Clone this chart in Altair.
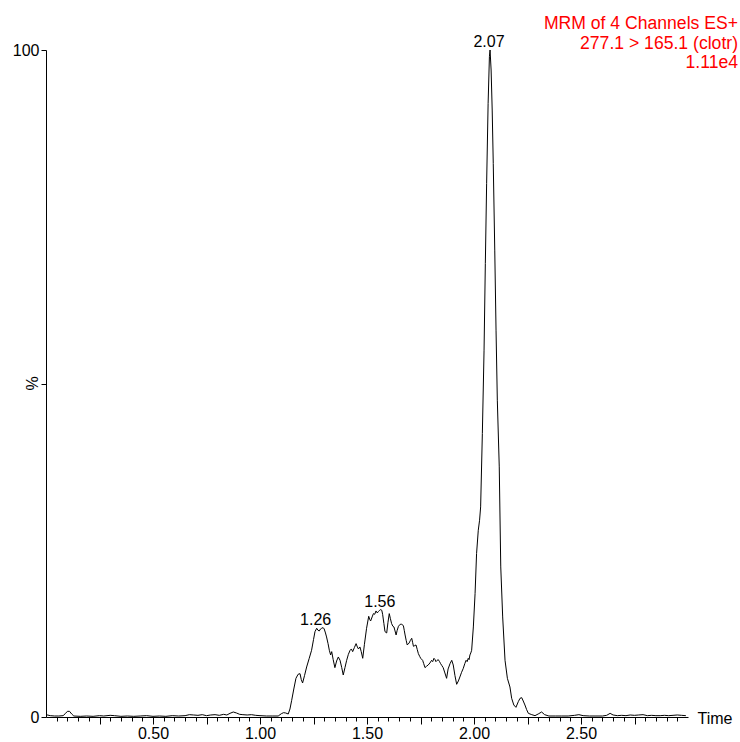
import altair as alt
import pandas as pd

# ---- data ----
times = [
    0.00, 0.02, 0.04, 0.06, 0.08, 0.09, 0.10, 0.11, 0.12, 0.13, 0.16, 0.19, 0.22, 0.25, 0.27,
    0.30, 0.32, 0.35, 0.38, 0.41, 0.44, 0.47, 0.50, 0.53, 0.56, 0.59, 0.62, 0.65, 0.67, 0.69,
    0.71, 0.73, 0.75, 0.77, 0.79, 0.81, 0.83, 0.845, 0.86, 0.875, 0.89, 0.905, 0.92, 0.94, 0.96,
    0.98, 1.00, 1.03, 1.06, 1.085, 1.10, 1.11, 1.12, 1.132, 1.14, 1.148, 1.158, 1.168, 1.178,
    1.187, 1.193, 1.199, 1.208, 1.218, 1.23, 1.241, 1.25, 1.257, 1.265, 1.271, 1.277, 1.283,
    1.288, 1.295, 1.30, 1.306, 1.311, 1.318, 1.324, 1.330, 1.335, 1.342, 1.350, 1.358, 1.366,
    1.374, 1.382, 1.389, 1.397, 1.405, 1.413, 1.421, 1.427, 1.433, 1.441, 1.449, 1.455, 1.460,
    1.467, 1.473, 1.480, 1.488, 1.498, 1.508, 1.513, 1.517, 1.524, 1.530, 1.536, 1.542, 1.548,
    1.553, 1.559, 1.564, 1.569, 1.573, 1.579, 1.584, 1.592, 1.598, 1.604, 1.609, 1.615, 1.621,
    1.626, 1.631, 1.636, 1.641, 1.647, 1.655, 1.662, 1.670, 1.674, 1.678, 1.683, 1.688, 1.697,
    1.703, 1.709, 1.713, 1.717, 1.723, 1.729, 1.735, 1.740, 1.746, 1.751, 1.760, 1.765, 1.771,
    1.778, 1.786, 1.794, 1.802, 1.807, 1.813, 1.818, 1.822, 1.828, 1.833, 1.839, 1.844, 1.850,
    1.856, 1.864, 1.872, 1.879, 1.888, 1.896, 1.903, 1.911, 1.919, 1.927, 1.934, 1.942, 1.950,
    1.957, 1.963, 1.968, 1.973, 1.977, 1.981, 1.985, 1.989, 1.997, 2.005, 2.012, 2.020, 2.026,
    2.031, 2.039, 2.047, 2.053, 2.059, 2.066, 2.072, 2.075, 2.080, 2.085, 2.090, 2.097, 2.103,
    2.109, 2.118, 2.125, 2.134, 2.145, 2.156, 2.168, 2.176, 2.186, 2.196, 2.207, 2.215, 2.223,
    2.230, 2.238, 2.246, 2.254, 2.27, 2.285, 2.30, 2.316, 2.33, 2.35, 2.38, 2.41, 2.44, 2.47,
    2.49, 2.51, 2.54, 2.57, 2.60, 2.62, 2.636, 2.65, 2.67, 2.69, 2.71, 2.73, 2.75, 2.77, 2.79,
    2.81, 2.83, 2.85, 2.87, 2.89, 2.91, 2.93, 2.95, 2.97, 2.99,
]
intensity = [
    0.35, 0.2, 0.15, 0.15, 0.2, 0.5, 0.85, 0.85, 0.45, 0.15, 0.1, 0.15, 0.1, 0.2, 0.15,
    0.25, 0.2, 0.1, 0.15, 0.1, 0.15, 0.2, 0.1, 0.15, 0.1, 0.2, 0.15, 0.2, 0.35, 0.3,
    0.25, 0.35, 0.2, 0.3, 0.35, 0.25, 0.4, 0.3, 0.55, 0.75, 0.6, 0.4, 0.35, 0.3, 0.35,
    0.25, 0.2, 0.15, 0.15, 0.15, 0.5, 0.65, 0.6, 0.45, 1.2, 2.5, 4.2, 5.8, 6.4,
    6.5, 5.6, 5.1, 6.2, 7.5, 8.8, 10.0, 11.6, 12.8, 13.3, 13.0, 12.9, 13.2,
    13.3, 13.4, 13.2, 12.6, 12.0, 11.0, 10.0, 9.3, 9.8, 8.6, 7.4, 8.4, 9.0,
    8.5, 7.4, 6.3, 7.4, 8.5, 9.4, 10.0, 10.2, 9.8, 10.4, 11.0, 10.5, 10.2,
    10.5, 9.8, 8.8, 10.9, 13.3, 15.1, 14.6, 14.4, 15.0, 15.5, 15.4, 15.9, 15.6,
    15.8, 16.0, 16.1, 16.0, 15.4, 14.0, 12.8, 12.6, 14.2, 15.5, 14.8, 14.0, 13.6,
    13.5, 12.9, 12.3, 13.0, 13.6, 13.9, 13.9, 13.7, 13.0, 12.3, 11.5, 10.8, 11.1,
    11.5, 11.8, 11.2, 10.6, 10.7, 10.8, 10.1, 9.5, 9.1, 8.8, 8.5, 8.0, 7.4,
    7.6, 7.8, 8.1, 8.5, 8.3, 8.8, 8.6, 8.3, 8.5, 8.6, 8.3, 8.0, 7.7,
    7.4, 6.6, 5.8, 7.2, 8.0, 8.5, 7.8, 6.2, 4.9, 5.4, 6.0, 6.7, 7.3,
    8.0, 8.5, 8.3, 8.8, 8.6, 9.3, 9.6, 10.0, 13.5, 18.5, 24.5, 28.0, 29.5,
    31.5, 42.5, 55.0, 68.0, 80.0, 92.0, 99.0, 100.0, 97.0, 91.0, 83.0, 70.0, 58.0,
    47.5, 37.5, 22.5, 15.0, 8.5, 5.8, 4.5, 2.8, 1.8, 1.45, 2.3, 2.8, 2.9,
    2.4, 1.8, 1.1, 0.55, 0.35, 0.2, 0.45, 0.75, 0.35, 0.15, 0.15, 0.15, 0.15, 0.25,
    0.35, 0.2, 0.15, 0.15, 0.15, 0.25, 0.55, 0.3, 0.2, 0.25, 0.2, 0.3, 0.25, 0.3, 0.35,
    0.2, 0.25, 0.2, 0.2, 0.25, 0.2, 0.25, 0.3, 0.25, 0.2,
]
peak_times = [1.26, 1.56, 2.07]
peak_heights = [13.4, 16.1, 100.0]
peak_labels = ["1.26", "1.56", "2.07"]
header_lines = ["MRM of 4 Channels ES+", "277.1 > 165.1 (clotr)", "1.11e4"]
major_ticks = [0.25, 0.50, 0.75, 1.00, 1.25, 1.50, 1.75, 2.00, 2.25, 2.50, 2.75]
minor_ticks = [round(0.05 * i, 2) for i in range(1, 60)]
y_ticks = [0, 50, 100]

FONT = "Liberation Sans"
FS = 16

trace = pd.DataFrame({"t": times, "v": intensity})
peaks = pd.DataFrame({"t": peak_times, "v": peak_heights, "lab": peak_labels})
header = pd.DataFrame({"k": [0]})

xscale = alt.Scale(domain=[0, 3.0], nice=False, zero=False)
yscale = alt.Scale(domain=[0, 100], nice=False, zero=True)

yaxis = alt.Axis(
    values=y_ticks,
    labelExpr="datum.value == 50 ? '' : datum.label",
    tickSize=5, labelPadding=2, labelFontSize=FS, labelColor="black", labelFont=FONT,
    domainColor="black", tickColor="black", grid=False,
    title="%", titleFont=FONT, titleFontSize=FS, titleFontWeight="normal", titleColor="black",
    titleAngle=270, titleX=-14, titleY=333, titleAlign="center", titleBaseline="middle",
)

line = alt.Chart(trace).mark_line(color="black", strokeWidth=1).encode(
    x=alt.X("t:Q", scale=xscale, axis=alt.Axis(
        orient="bottom", values=major_ticks,
        labelExpr="(round(datum.value*100) % 50 == 0) ? format(datum.value, '.2f') : ''",
        tickSize=7, labelPadding=1, labelFontSize=FS, labelFont=FONT, labelColor="black",
        domainColor="black", tickColor="black", grid=False,
        title="Time", titleFont=FONT, titleFontSize=FS, titleFontWeight="normal",
        titleColor="black", titleX=651, titleY=1, titleAlign="left",
        titleBaseline="middle", titleAngle=0,
    )),
    y=alt.Y("v:Q", scale=yscale, axis=yaxis),
)

labels = alt.Chart(peaks).mark_text(
    font=FONT, fontSize=FS, color="black", align="center", baseline="alphabetic", dy=-3
).encode(
    x=alt.X("t:Q", scale=xscale, axis=alt.Axis(
        orient="bottom", values=minor_ticks, labels=False, domain=False,
        tickSize=4, tickColor="black", grid=False, title=None,
    )),
    y=alt.Y("v:Q", scale=yscale, axis=None),
    text="lab:N",
)

head = alt.Chart(header).mark_text(
    text=header_lines, font=FONT, fontSize=17.6, color="#ff0000",
    align="right", baseline="top", lineHeight=19.5,
).encode(x=alt.value(692), y=alt.value(-35))

chart = alt.layer(line, labels, head).resolve_scale(x="shared", y="shared").resolve_axis(
    x="independent", y="independent"
).properties(
    width=642, height=667,
    autosize=alt.AutoSizeParams(type="none"),
    padding={"left": 46, "top": 50, "right": 52, "bottom": 25},
).configure(font=FONT).configure_view(stroke=None)

chart.save("out.html", embed_options={"renderer": "svg", "actions": False})
